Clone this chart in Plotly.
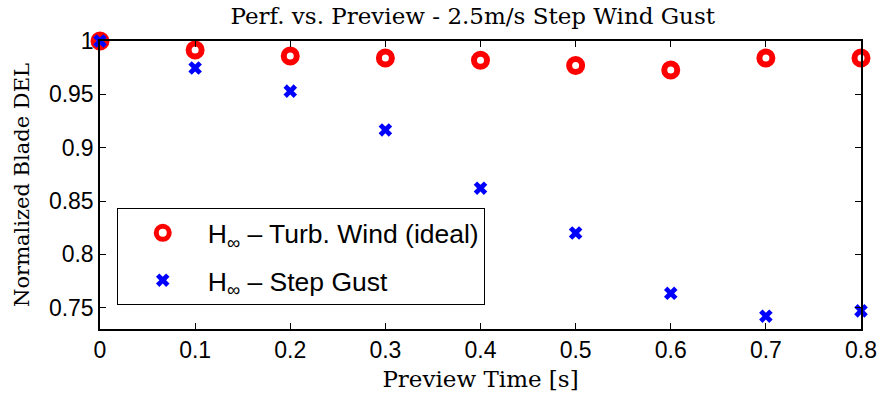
import plotly.graph_objects as go

preview_time = [0.0, 0.1, 0.2, 0.3, 0.4, 0.5, 0.6, 0.7, 0.8]
turb_wind_ideal = [1.0, 0.9916, 0.986, 0.984, 0.982, 0.977, 0.9728, 0.984, 0.984]
step_gust = [1.0, 0.9747, 0.953, 0.9166, 0.862, 0.820, 0.7635, 0.742, 0.747]

x_ticks = [0, 0.1, 0.2, 0.3, 0.4, 0.5, 0.6, 0.7, 0.8]
x_tick_text = ["0", "0.1", "0.2", "0.3", "0.4", "0.5", "0.6", "0.7", "0.8"]
y_ticks = [0.75, 0.8, 0.85, 0.9, 0.95, 1.0]
y_tick_text = ["0.75", "0.8", "0.85", "0.9", "0.95", "1"]

fig = go.Figure()
fig.add_trace(go.Scatter(
    x=preview_time, y=turb_wind_ideal, mode="markers",
    name="H<sub>∞</sub> – Turb. Wind (ideal)", legendgroup="a",
    marker=dict(symbol="circle-open", size=13, color="#ff0000",
                line=dict(color="#ff0000", width=6)),
    cliponaxis=False,
))
fig.add_trace(go.Scatter(
    x=preview_time, y=step_gust, mode="markers",
    name="H<sub>∞</sub> – Step Gust", legendgroup="b",
    marker=dict(symbol="x", size=12, color="#0000ff", line=dict(width=0)),
    cliponaxis=False,
))

serif = "DejaVu Serif"
sans = "Liberation Sans"

fig.update_layout(
    width=882, height=400,
    margin=dict(l=100, r=21, t=41, b=71, autoexpand=False),
    paper_bgcolor="white", plot_bgcolor="white",
    title=dict(text="Perf. vs. Preview - 2.5m/s Step Wind Gust",
               font=dict(family=serif, size=23, color="black"),
               x=0.536, xanchor="center", y=0.96, yanchor="middle"),
    showlegend=True,
    legend=dict(x=0.022, y=0.42, xanchor="left", yanchor="top",
                bgcolor="white", bordercolor="black", borderwidth=1,
                font=dict(family=sans, size=26.5, color="black"),
                itemsizing="trace", itemwidth=80, tracegroupgap=10,
                traceorder="grouped"),
)
fig.update_xaxes(
    range=[0, 0.8], tickvals=x_ticks, ticktext=x_tick_text,
    ticks="inside", ticklen=6, tickcolor="black",
    showline=True, linecolor="black", linewidth=1.5, mirror="ticks",
    showgrid=False, zeroline=False, automargin=False,
    tickfont=dict(family=sans, size=23, color="black"),
    title=dict(text="Preview Time [s]", font=dict(family=serif, size=23, color="black"), standoff=9),
)
fig.update_yaxes(
    range=[0.73, 1.0], tickvals=y_ticks, ticktext=y_tick_text,
    ticks="inside", ticklen=6, tickcolor="black",
    showline=True, linecolor="black", linewidth=1.5, mirror="ticks",
    showgrid=False, zeroline=False, automargin=False,
    tickfont=dict(family=sans, size=23, color="black"),
    title=dict(text="Normalized Blade DEL", font=dict(family=serif, size=21, color="black"), standoff=14),
)

fig.write_html("out.html")
